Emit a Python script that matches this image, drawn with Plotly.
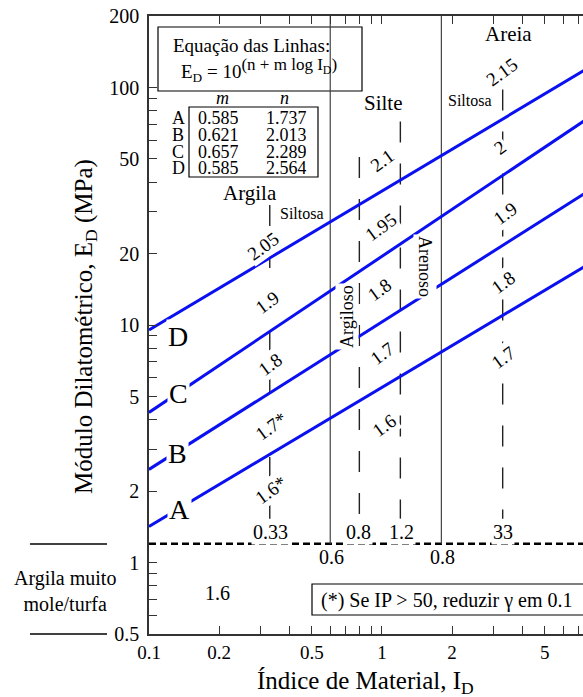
import numpy as np
import plotly.graph_objects as go

# Line coefficients: E_D [bar] = 10 ** (n + m * log10(I_D)); plotted in MPa (bar / 10)
line_names = ["A", "B", "C", "D"]
m_coef = [0.585, 0.621, 0.657, 0.585]
n_coef = [1.737, 2.013, 2.289, 2.564]

# Soil class boundaries on I_D (solid) and sub-class boundaries (dashed)
class_bounds = [0.6, 1.8]
sub_bounds = [0.33, 0.8, 1.2, 3.3]
sub_tops = [32, 51, 72, 98]          # E_D (MPa) where each dashed boundary ends
sub_bottom = 1.53                    # E_D (MPa) lower end of the dashed boundaries
ed_limit = 1.2                       # E_D (MPa) limit of very soft clay / peat

# Unit weight labels (t/m3), bottom to top, for each column
gamma_clay = ["1.6*", "1.7*", "1.8", "1.9", "2.05"]
gamma_silt = ["1.6", "1.7", "1.8", "1.95", "2.1"]
gamma_sand = ["1.7", "1.8", "1.9", "2", "2.15"]
gamma_soft = "1.6"

# Axis ticks
x_range = [0.1, 7.3]
y_range = [0.5, 200]
x_major = [0.1, 0.2, 0.5, 1, 2, 5]
x_minor = [0.3, 0.4, 0.6, 0.7, 0.8, 0.9, 3, 4, 6, 7]
y_major = [0.5, 1, 2, 5, 10, 20, 50, 100, 200]
y_minor = [0.6, 0.7, 0.8, 0.9, 3, 4, 6, 7, 8, 9, 30, 40, 60, 70, 80, 90]

FONT = "Liberation Serif, Times New Roman, DejaVu Serif, serif"
BLUE = "#0A10F0"
W, H = 583, 697
L, T, R, B = 149, 16, 583, 634


def px(x):
    return (x - L) / (R - L)


def py(y):
    return (B - y) / (B - T)


fig = go.Figure()

# very soft clay / peat limit
fig.add_trace(go.Scatter(x=[x_range[0], 10], y=[ed_limit, ed_limit], mode="lines",
                         line=dict(color="black", width=2.5, dash="7px,4px"),
                         hoverinfo="skip"))

# main soil class boundaries
for b in class_bounds:
    fig.add_trace(go.Scatter(x=[b, b], y=[ed_limit, y_range[1]], mode="lines",
                             line=dict(color="#444", width=1.2), hoverinfo="skip"))

# sub-class boundaries
for b, top in zip(sub_bounds, sub_tops):
    fig.add_trace(go.Scatter(x=[b, b], y=[top, sub_bottom], mode="lines",
                             line=dict(color="#222", width=1.4, dash="21px,21px"),
                             hoverinfo="skip"))

# E_D lines
id_span = np.array([x_range[0], 10.0])
for name, m, n in zip(line_names, m_coef, n_coef):
    ed = 10 ** (n + m * np.log10(id_span)) / 10.0
    fig.add_trace(go.Scatter(x=id_span, y=ed, mode="lines", name=name,
                             line=dict(color=BLUE, width=3), hoverinfo="skip"))

annotations = []


def note(text, x, y, size=20, angle=0, bg=None, **kw):
    a = dict(text=text, x=px(x), y=py(y), xref="paper", yref="paper",
             showarrow=False, textangle=angle, xanchor="center", yanchor="middle",
             font=dict(family=FONT, size=size, color="black"))
    if bg:
        a.update(bgcolor=bg, borderpad=1)
    a.update(kw)
    annotations.append(a)


# line letters
for name, (x, y) in zip(line_names, [(179, 510), (177, 453), (178, 393), (178, 336)]):
    note(name, x, y, size=28, bg="white")

# unit weight labels along the columns
for lab, (x, y) in zip(gamma_clay, [(270, 490), (271, 427), (270, 364), (267, 302), (263, 247)]):
    note(lab, x, y, size=19, angle=-36, bg="white")
for lab, (x, y) in zip(gamma_silt, [(384, 425), (382, 353), (380, 290), (380, 227), (382, 160)]):
    note(lab, x, y, size=19, angle=-36, bg="white")
for lab, (x, y) in zip(gamma_sand, [(503, 357), (503, 282), (505, 213), (500, 147), (501, 72)]):
    note(lab, x, y, size=19, angle=-36, bg="white")
note(gamma_soft, 217, 593)

# boundary values
for lab, x in zip(["0.33", "0.8", "1.2", "33"], [270, 358, 401, 503]):
    note(lab, x, 532, bg="white")
note("0.6", 331, 557)
note("0.8", 442, 557)

# soil class names
note("Argila", 250, 193, size=21)
note("Siltosa", 302, 213, size=16)
note("Silte", 383, 103, size=21)
note("Areia", 508, 34, size=21)
note("Siltosa", 470, 101, size=16)
note("Argiloso", 347, 317, size=18, angle=-90, bg="white")
note("Arenoso", 425, 266, size=18, angle=90, bg="white")

# equation box
note("Equação das Linhas:", 251, 45, size=19)
note("E<sub>D</sub> = 10<sup><span style='font-size:17px'>(n + m log I"
     "<sub>D</sub>)</span></sup>", 259, 70, size=19)

# coefficient table
note("<i>m</i>", 222, 98, size=18, height=14)
note("<i>n</i>", 284, 98, size=18, height=14)
for i, (name, m, n) in enumerate(zip(line_names, m_coef, n_coef)):
    y = 118 + i * 16.8
    note(name, 178, y, size=18, height=14)
    note(f"{m:.3f}", 218, y, size=18, height=14)
    note(f"{n:.3f}", 286, y, size=18, height=14)

# footnote
note("(*) Se IP &gt; 50, reduzir γ em 0.1", 447, 600)

# soft clay / peat label outside the axis
note("Argila muito<br>mole/turfa", 65, 591)

# axis titles
note("Módulo Dilatométrico, E<sub>D</sub> (MPa)", 85, 327, size=25, angle=-90)
note("Índice de Material, I<sub>D</sub>", 365, 683, size=25)

shapes = [
    dict(type="rect", xref="paper", yref="paper", x0=px(158), x1=px(362),
         y0=py(91), y1=py(27), line=dict(color="black", width=1.2),
         fillcolor="white", layer="below"),
    dict(type="rect", xref="paper", yref="paper", x0=px(189), x1=px(318),
         y0=py(177), y1=py(107), line=dict(color="black", width=1.2),
         fillcolor="white", layer="below"),
    dict(type="rect", xref="paper", yref="paper", x0=px(312), x1=px(590),
         y0=py(615), y1=py(584), line=dict(color="black", width=1.2),
         fillcolor="white", layer="above"),
    dict(type="line", xref="paper", yref="paper", x0=px(30), x1=px(107),
         y0=py(544), y1=py(544), line=dict(color="black", width=1.5)),
    dict(type="line", xref="paper", yref="paper", x0=px(30), x1=px(107),
         y0=py(634), y1=py(634), line=dict(color="black", width=1.5)),
]

xr = [np.log10(x_range[0]), np.log10(x_range[1])]
yr = [np.log10(y_range[0]), np.log10(y_range[1])]
tick_style = dict(ticks="inside", ticklen=8, tickwidth=1.2, tickcolor="#333")

fig.update_layout(
    width=W, height=H,
    margin=dict(l=L, r=W - R, t=T, b=H - B, pad=0),
    paper_bgcolor="white", plot_bgcolor="white",
    showlegend=False,
    font=dict(family=FONT, color="black"),
    annotations=annotations,
    shapes=shapes,
    xaxis=dict(type="log", range=xr, tickmode="array", tickvals=x_major,
               ticktext=[f"{v:g}" for v in x_major],
               minor=dict(tickmode="array", tickvals=x_minor, **tick_style),
               showline=True, linecolor="#333", linewidth=1.6, mirror="ticks",
               showgrid=False, zeroline=False,
               tickfont=dict(family=FONT, size=19, color="black"),
               ticklabelstandoff=0, **tick_style),
    yaxis=dict(type="log", range=yr, tickmode="array", tickvals=y_major,
               ticktext=[f"{v:g}" for v in y_major],
               minor=dict(tickmode="array", tickvals=y_minor, **tick_style),
               showline=True, linecolor="#333", linewidth=1.6,
               showgrid=False, zeroline=False,
               tickfont=dict(family=FONT, size=20, color="black"),
               ticklabelstandoff=4, **tick_style),
    # longer decade ticks
    xaxis2=dict(type="log", range=xr, overlaying="x", anchor="y", side="bottom",
                tickmode="array", tickvals=[1], ticks="inside", ticklen=16,
                tickwidth=1.2, tickcolor="#333", mirror="ticks", showline=False,
                showticklabels=False, showgrid=False, zeroline=False),
    yaxis2=dict(type="log", range=yr, overlaying="y", anchor="x", side="left",
                tickmode="array", tickvals=[1, 10], ticks="inside", ticklen=14,
                tickwidth=1.2, tickcolor="#333", showline=False,
                showticklabels=False, showgrid=False, zeroline=False),
    yaxis3=dict(type="log", range=yr, overlaying="y", anchor="x", side="right",
                tickmode="array", tickvals=[1, 10, 100], ticks="inside", ticklen=6,
                tickwidth=1.2, tickcolor="#333", showline=False,
                showticklabels=False, showgrid=False, zeroline=False),
)

fig.write_html("out.html")
